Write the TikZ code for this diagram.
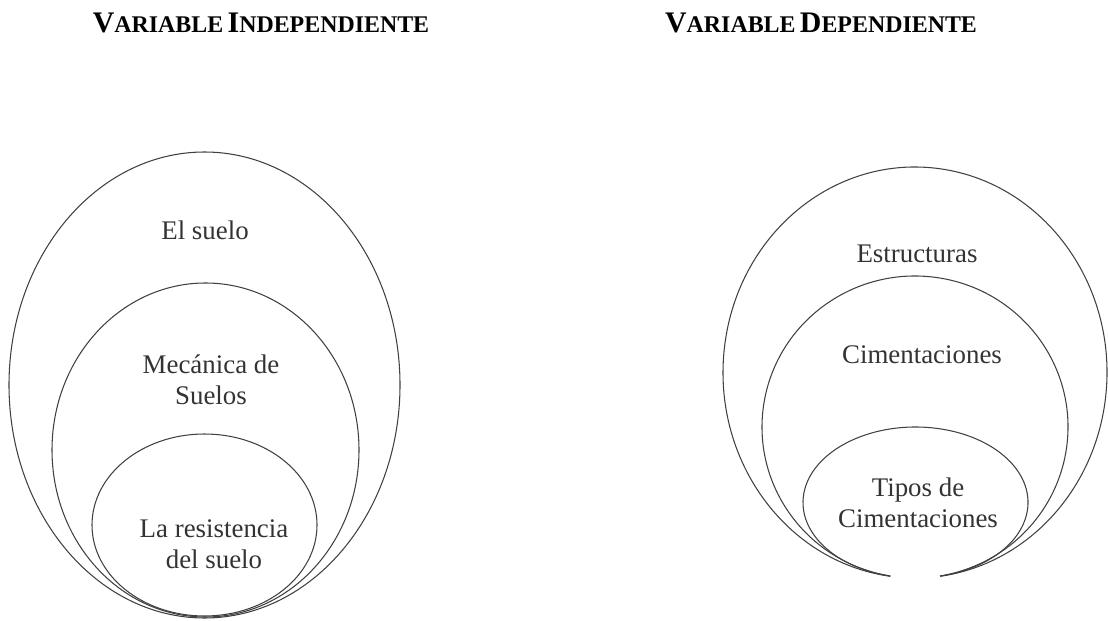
\documentclass[tikz,border=0pt]{standalone}
\usepackage{fontspec}
\setmainfont{Liberation Serif}
\tikzset{
  ring/.style={draw=black!75, line width=0.6pt},
  label/.style={text=black!80, align=center, font=\fontsize{15.3}{17.5}\selectfont},
  heading/.style={font=\bfseries}
}
\newcommand{\bigletter}[1]{{\fontsize{17}{18}\selectfont #1}}
\newcommand{\smallletters}[1]{{\fontsize{13.6}{15}\selectfont #1}}
\begin{document}
\begin{tikzpicture}[x=0.02cm, y=-0.02cm]
		\useasboundingbox (0,0) rectangle (1108,621);
		
		%headings
		\node[heading] (indep) at (261,23){\bigletter{V}\smallletters{ARIABLE} \bigletter{I}\smallletters{NDEPENDIENTE}};
		\node[heading] (dep) at (821,23){\bigletter{V}\smallletters{ARIABLE} \bigletter{D}\smallletters{EPENDIENTE}};
		
		%left ellipses
		\draw[ring] (204.5,385) ellipse [x radius=195.5, y radius=233];
		\draw[ring] (205.5,450) ellipse [x radius=153.5, y radius=167];
		\draw[ring] (204.5,525) ellipse [x radius=112.5, y radius=91];
		
		\node[label] (suelo) at (205,230){El suelo};
		\node[label] (mecanica) at (211,380){Mec\'anica de\\ Suelos};
		\node[label] (resistencia) at (214,544){La resistencia\\ del suelo};
		
		%right ellipses, open at the bottom
		\draw[ring] (915,372.5) ++(97.5:192 and 205.5) arc[start angle=97.5, end angle=442.5, x radius=192, y radius=205.5];
		\draw[ring] (915,427) ++(99.4:153 and 151) arc[start angle=99.4, end angle=440.6, x radius=153, y radius=151];
		\draw[ring] (915.5,502.5) ++(102.8:112.5 and 75.5) arc[start angle=102.8, end angle=437.2, x radius=112.5, y radius=75.5];
		
		\node[label] (estructuras) at (917,254){Estructuras};
		\node[label] (cimentaciones) at (922,355){Cimentaciones};
		\node[label] (tipos) at (918,503){Tipos de\\ Cimentaciones};
		\end{tikzpicture}
\end{document}
